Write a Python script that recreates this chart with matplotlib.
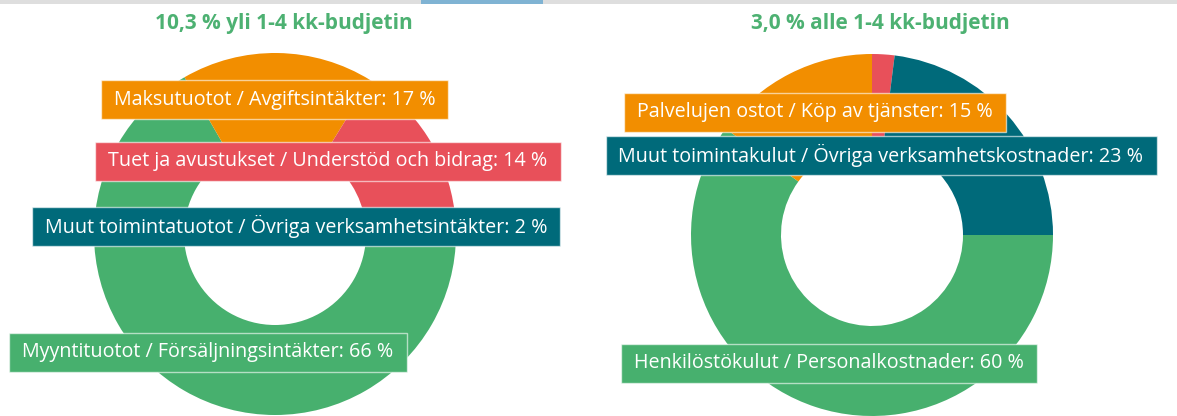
import matplotlib.pyplot as plt
from matplotlib.patches import Rectangle

plt.rcParams['font.family'] = ['Open Sans', 'DejaVu Sans']

W, H = 1177, 416

# data
vasen_otsikko = "10,3 % yli 1-4 kk-budjetin"
vasen_nimet = ["Myyntituotot / Försäljningsintäkter",
               "Maksutuotot / Avgiftsintäkter",
               "Tuet ja avustukset / Understöd och bidrag",
               "Muut toimintatuotot / Övriga verksamhetsintäkter"]
vasen_arvot = [66, 17, 14, 2]

oikea_otsikko = "3,0 % alle 1-4 kk-budjetin"
oikea_nimet = ["Henkilöstökulut / Personalkostnader",
               "Palvelujen ostot / Köp av tjänster",
               "",
               "Muut toimintakulut / Övriga verksamhetskostnader"]
oikea_arvot = [60, 15, 2, 23]

vari = ["#47b06e", "#f28e00", "#e8505a", "#006a7a"]
otsikko_vari = "#4db172"

# label box centres in pixels (x, y from top)
vasen_paikat = [(208, 352), (274.5, 99.5), (328, 161), (296, 226)]
oikea_paikat = [(829, 363), (815, 112), None, (881, 155.5)]


def piirra_donitsi(ax, keski, arvot, nimet, paikat, otsikko, otsikko_x):
    cx, cy = keski
    ax.pie(arvot, colors=vari, center=(cx, H - cy), radius=181,
           startangle=0, counterclock=False, frame=True,
           wedgeprops=dict(width=90, linewidth=0))
    ax.text(otsikko_x, H - 24, otsikko, ha='center', va='center',
            fontsize=15, fontweight='bold', color=otsikko_vari)
    for nimi, arvo, paikka, v in zip(nimet, arvot, paikat, vari):
        if paikka is None or not nimi:
            continue
        px, py = paikka
        t = ax.text(px, H - py, f"{nimi}: {arvo} %", ha='center', va='center',
                    fontsize=14.2, color='white', zorder=5)
        t._box_color = v


fig = plt.figure(figsize=(W / 100, H / 100), dpi=100)
ax = fig.add_axes([0, 0, 1, 1])

piirra_donitsi(ax, (275, 234), vasen_arvot, vasen_nimet, vasen_paikat,
               vasen_otsikko, 284)
piirra_donitsi(ax, (872, 235), oikea_arvot, oikea_nimet, oikea_paikat,
               oikea_otsikko, 880)

ax.set_xlim(0, W)
ax.set_ylim(0, H)
ax.set_aspect('equal')
ax.axis('off')

# boxes behind labels, sized from text extents
fig.canvas.draw()
r = fig.canvas.get_renderer()
for t in ax.texts:
    if not hasattr(t, '_box_color'):
        continue
    bb = t.get_window_extent(r)
    x0, x1 = bb.x0 - 13, bb.x1 + 13
    yc = (bb.y0 + bb.y1) / 2
    ax.add_patch(Rectangle((x0, yc - 19.5), x1 - x0, 39, facecolor=t._box_color,
                           edgecolor=(1, 1, 1, 0.6), linewidth=1, zorder=4))

# top bar
ax.add_patch(Rectangle((0, H - 4), W, 4, facecolor="#dedede", linewidth=0, zorder=6))
ax.add_patch(Rectangle((421, H - 4), 122, 4, facecolor="#7fb3d3", linewidth=0, zorder=7))

fig.savefig("out.png", dpi=100)
